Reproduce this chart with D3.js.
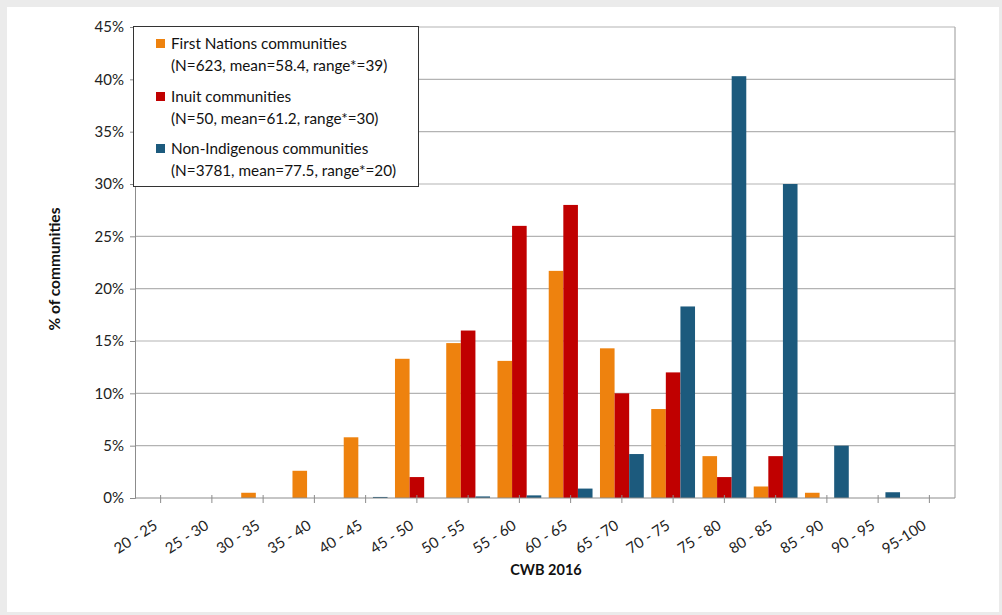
<!DOCTYPE html>
<html><head><meta charset="utf-8">
<script src="https://cdn.jsdelivr.net/npm/d3@7"></script>
<style>
html,body{margin:0;padding:0;background:#ebebeb;}
svg{display:block;font-family:Lato,"Liberation Sans",sans-serif;}
</style></head>
<body>
<svg id="chart" width="1002" height="615"></svg>
<script>
const categories = ["20 - 25","25 - 30","30 - 35","35 - 40","40 - 45","45 - 50","50 - 55","55 - 60","60 - 65","65 - 70","70 - 75","75 - 80","80 - 85","85 - 90","90 - 95","95-100"];
const firstNations = [0,0,0.5,2.6,5.8,13.3,14.8,13.1,21.7,14.3,8.5,4.0,1.1,0.5,0,0];
const inuit = [0,0,0,0,0,2,16,26,28,10,12,2,4,0,0,0];
const nonIndigenous = [0,0,0,0,0.1,0,0.15,0.25,0.9,4.2,18.3,40.3,30.0,5.0,0.55,0];
const seriesNames = ["First Nations communities","Inuit communities","Non-Indigenous communities"];
const seriesNotes = ["(N=623, mean=58.4, range*=39)","(N=50, mean=61.2, range*=30)","(N=3781, mean=77.5, range*=20)"];
const colors = ["#ee820e","#c00000","#1c5a7d"];
const yTicks = [0,5,10,15,20,25,30,35,40,45];

const series = [firstNations, inuit, nonIndigenous];
const svg = d3.select("#chart");
svg.append("rect").attr("x",7).attr("y",7).attr("width",992).attr("height",605).attr("fill","#ffffff");

const m = {left:135, right:955, top:27, bottom:498};
const xc = d3.scaleBand().domain(categories).range([m.left, m.right]);
const y = d3.scaleLinear().domain([0,45]).range([m.bottom, m.top]);

// gridlines
svg.append("g").selectAll("line").data(yTicks.filter(d=>d>0)).join("line")
  .attr("x1",m.left).attr("x2",m.right).attr("y1",d=>y(d)).attr("y2",d=>y(d))
  .attr("stroke","#b3b3b3").attr("stroke-width",1.2);
// plot border right
svg.append("line").attr("x1",m.right).attr("x2",m.right).attr("y1",m.top).attr("y2",m.bottom).attr("stroke","#a8a8a8").attr("stroke-width",1.2);

// bars
const cx = c => xc(c) + xc.bandwidth()/2;
const bw = 14.6;
series.forEach((s,i)=>{
  svg.append("g").selectAll("rect").data(categories.map((c,j)=>({c,v:s[j]}))).join("rect")
    .attr("x",d=>cx(d.c) - 1.5*bw + i*bw)
    .attr("width",bw)
    .attr("y",d=>y(d.v)).attr("height",d=>y(0)-y(d.v))
    .attr("fill",colors[i]);
});

// y axis
const yAxis = d3.axisLeft(y).tickValues(yTicks).tickFormat(d=>d+"%").tickSize(5).tickPadding(6);
const gy = svg.append("g").attr("transform",`translate(${m.left},0)`).call(yAxis);
gy.select(".domain").attr("stroke","#8c8c8c");
gy.selectAll(".tick line").attr("stroke","#8c8c8c");
gy.selectAll("text").attr("font-size",15).attr("fill","#222").attr("font-family","Lato,sans-serif");

// x axis
const gx = svg.append("g").attr("transform",`translate(0,${m.bottom})`);
gx.append("line").attr("x1",m.left).attr("x2",m.right).attr("stroke","#8c8c8c");
gx.selectAll("line.t").data(categories).join("line").attr("class","t")
  .attr("x1",d=>cx(d)).attr("x2",d=>cx(d)).attr("y1",-3).attr("y2",5).attr("stroke","#8c8c8c");
gx.selectAll("text").data(categories).join("text")
  .attr("transform",d=>`translate(${cx(d)-2},${30}) rotate(-33)`)
  .attr("text-anchor","end").attr("font-size",15).attr("fill","#222")
  .text(d=>d);

// axis titles
svg.append("text").attr("transform","translate(60,269) rotate(-90)").attr("text-anchor","middle")
  .attr("font-size",15.5).attr("font-weight","bold").attr("fill","#111").text("% of communities");
svg.append("text").attr("x",546).attr("y",575).attr("text-anchor","middle")
  .attr("font-size",14.5).attr("font-weight","bold").attr("fill","#111").text("CWB 2016");

// legend
const lg = svg.append("g");
lg.append("rect").attr("x",133.5).attr("y",26.5).attr("width",285).attr("height",160)
  .attr("fill","#fff").attr("stroke","#333").attr("stroke-width",1);
const rowY = [49,102,154];
seriesNames.forEach((n,i)=>{
  lg.append("rect").attr("x",156).attr("y",rowY[i]-10).attr("width",9).attr("height",9).attr("fill",colors[i]);
  lg.append("text").attr("x",171).attr("y",rowY[i]).attr("font-size",15.3).attr("fill","#111").text(n);
  lg.append("text").attr("x",171).attr("y",rowY[i]+22).attr("font-size",15.3).attr("fill","#111").text(seriesNotes[i]);
});
</script>
</body></html>
